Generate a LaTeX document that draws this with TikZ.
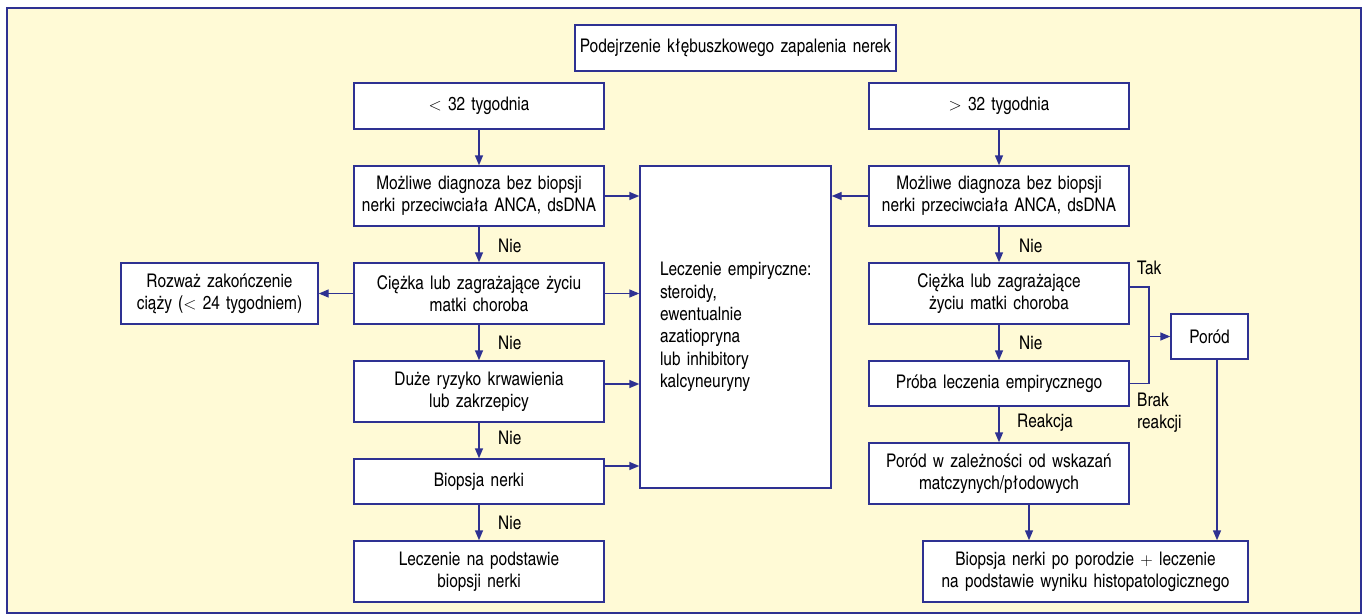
\documentclass[tikz,border=0pt]{standalone}
\usepackage{fontspec}
\setmainfont{texgyreheroscn}[Extension=.otf, UprightFont=*-regular, BoldFont=*-bold]
\usetikzlibrary{arrows.meta}
\definecolor{fbblue}{RGB}{46,49,146}
\definecolor{fbyellow}{RGB}{255,250,214}
\begin{document}
\begin{tikzpicture}[x=1pt,y=-1pt,
  box/.style={draw=fbblue, line width=1.4pt, fill=white, inner sep=0pt, align=center,
    font=\fontsize{18.8}{22}\selectfont},
  arr/.style={draw=fbblue, line width=1.4pt, -{Triangle[length=10pt,width=8pt]}},
  ln/.style={draw=fbblue, line width=1.4pt},
  lbl/.style={font=\fontsize{18.8}{22}\selectfont, anchor=west, inner sep=0pt, align=left}]
\useasboundingbox (0,0) rectangle (1367,615);
\fill[white] (0,0) rectangle (1367,615);
\draw[fbblue, line width=2.5pt, fill=fbyellow] (7,8) rectangle (1361,613);

% top
\node[box, minimum width=321pt, minimum height=46pt, text width=315pt] (top) at (735.5,48) {Podejrzenie kłębuszkowego zapalenia nerek};

% left column
\node[box, minimum width=250pt, minimum height=46pt, text width=244pt] (lt1) at (479,106) {$<$ 32 tygodnia};
\node[box, minimum width=250pt, minimum height=60pt, text width=244pt] (lt2) at (479,196) {Możliwe diagnoza bez biopsji\\nerki przeciwciała ANCA, dsDNA};
\node[box, minimum width=250pt, minimum height=61pt, text width=244pt] (lt3) at (479,293.5) {Ciężka lub zagrażające życiu\\matki choroba};
\node[box, minimum width=250pt, minimum height=61pt, text width=244pt] (lt4) at (479,391.5) {Duże ryzyko krwawienia\\lub zakrzepicy};
\node[box, minimum width=250pt, minimum height=45pt, text width=244pt] (lt5) at (479,481.5) {Biopsja nerki};
\node[box, minimum width=250pt, minimum height=61pt, text width=244pt] (lt6) at (479,571.5) {Leczenie na podstawie\\biopsji nerki};
\node[box, minimum width=197pt, minimum height=61pt, text width=191pt] (rozw) at (219.5,293.5) {Rozważ zakończenie\\ciąży ($<$ 24 tygodniem)};

% middle
\node[box, minimum width=191pt, minimum height=322pt, text width=161pt, inner xsep=15pt, align=left,
  font=\fontsize{18.8}{22.4}\selectfont] (mid) at (735.5,327)
  {\hspace*{5pt}Leczenie empiryczne:\\\hspace*{5pt}steroidy,\\\hspace*{5pt}ewentualnie\\\hspace*{5pt}azatiopryna\\\hspace*{5pt}lub inhibitory\\\hspace*{5pt}kalcyneuryny};

% right column
\node[box, minimum width=260pt, minimum height=46pt, text width=254pt] (rt1) at (999,106) {$>$ 32 tygodnia};
\node[box, minimum width=260pt, minimum height=60pt, text width=254pt] (rt2) at (999,196) {Możliwe diagnoza bez biopsji\\nerki przeciwciała ANCA, dsDNA};
\node[box, minimum width=260pt, minimum height=61pt, text width=254pt] (rt3) at (999,293.5) {Ciężka lub zagrażające\\życiu matki choroba};
\node[box, minimum width=260pt, minimum height=45pt, text width=254pt] (rt4) at (999,383.5) {Próba leczenia empirycznego};
\node[box, minimum width=260pt, minimum height=61pt, text width=254pt] (rt5) at (999,473.5) {Poród w zależności od wskazań\\matczynych/płodowych};
\node[box, minimum width=77pt, minimum height=45pt, text width=71pt] (porod) at (1209.5,336.5) {Poród};
\node[box, minimum width=325pt, minimum height=61pt, text width=319pt] (bio) at (1085.5,571.5) {Biopsja nerki po porodzie $+$ leczenie\\na podstawie wyniku histopatologicznego};

% left connectors
\draw[arr] (lt1) -- (lt2);
\draw[arr] (lt2) -- (lt3);
\draw[arr] (lt3) -- (lt4);
\draw[arr] (lt4) -- (lt5);
\draw[arr] (lt5) -- (lt6);
\draw[arr] (lt3.west) -- (rozw.east);
\draw[arr] (lt2.east) -- (lt2.east -| mid.west);
\draw[arr] (lt3.east) -- (lt3.east -| mid.west);
\draw[arr] ([yshift=7.5pt]lt4.east) -- ([yshift=7.5pt]lt4.east -| mid.west);
\draw[arr] ([yshift=15.5pt]lt5.east) -- ([yshift=15.5pt]lt5.east -| mid.west);

% right connectors
\draw[arr] (rt1) -- (rt2);
\draw[arr] (rt2) -- (rt3);
\draw[arr] (rt3) -- (rt4);
\draw[arr] (rt4) -- (rt5);
\draw[arr] (rt2.west) -- (rt2.west -| mid.east);
\coordinate (j) at (1149,336.5);
\draw[ln] ([yshift=6.5pt]rt3.east) -| (j);
\draw[ln] (rt4.east) -| (j);
\draw[arr] (j) -- (porod.west);
\draw[arr] ([xshift=30pt]rt5.south) -- ([xshift=30pt]rt5.south |- bio.north);
\draw[arr] ([xshift=7.5pt]porod.south) -- ([xshift=7.5pt]porod.south |- bio.north);

% labels
\node[lbl] (l1) at (498,246) {Nie};
\node[lbl] (l2) at (498,343) {Nie};
\node[lbl] (l3) at (498,438) {Nie};
\node[lbl] (l4) at (498,523) {Nie};
\node[lbl] (r1) at (1019,246) {Nie};
\node[lbl] (r2) at (1019,343) {Nie};
\node[lbl] (r3) at (1017,423) {Reakcja};
\node[lbl] (tak) at (1137,268) {Tak};
\node[lbl] (brak) at (1137,412.5) {Brak\\reakcji};
\end{tikzpicture}
\end{document}
